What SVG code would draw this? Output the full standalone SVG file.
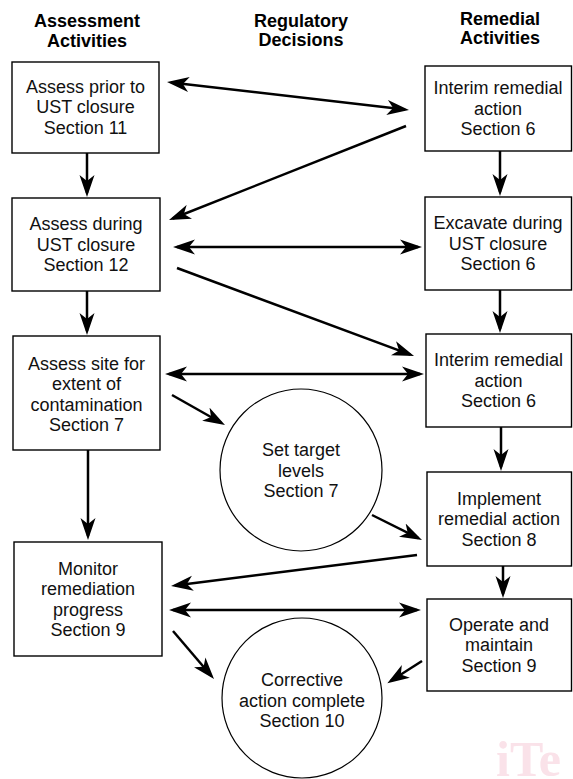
<svg xmlns="http://www.w3.org/2000/svg" width="573" height="779" viewBox="0 0 573 779">
<style>
.hdr{font-family:"Liberation Sans",Arial,sans-serif;font-size:18px;font-weight:bold;fill:#000;text-anchor:middle}
.t{font-family:"Liberation Sans",Arial,sans-serif;font-size:18px;fill:#111;text-anchor:middle}
.box{fill:#fff;stroke:#000;stroke-width:1.4}
.circ{fill:#fff;stroke:#000;stroke-width:1.2}
.ln{stroke:#000;stroke-width:2.5;fill:none;marker-end:url(#ah)}
.bi{stroke:#000;stroke-width:2.5;fill:none;marker-end:url(#ah);marker-start:url(#ah)}
.wm{font-family:"Liberation Serif","Times New Roman",serif;font-size:50px;font-weight:bold;fill:#fae2e9}
</style>
<defs>
<marker id="ah" viewBox="-22 -8 27 16" refX="-4" refY="0" markerWidth="27" markerHeight="16" markerUnits="userSpaceOnUse" orient="auto-start-reverse">
<path d="M0,0 L-22,-7.5 L-16,0 L-22,7.5 Z" fill="#000"/>
</marker>
</defs>
<rect width="573" height="779" fill="#fff"/>
<g id="headers">
<text class="hdr" x="87" y="27">Assessment</text>
<text class="hdr" x="87" y="47">Activities</text>
<text class="hdr" x="301" y="27">Regulatory</text>
<text class="hdr" x="301" y="46">Decisions</text>
<text class="hdr" x="500" y="25">Remedial</text>
<text class="hdr" x="500" y="44">Activities</text>
</g>
<g id="connectors">
<line class="bi" x1="171" y1="82.5" x2="405" y2="109.5"/>
<line class="ln" x1="406" y1="126" x2="172.7" y2="218.5"/>
<line class="ln" x1="87" y1="153" x2="87" y2="193"/>
<line class="ln" x1="500" y1="151" x2="500" y2="192"/>
<line class="bi" x1="177" y1="247" x2="418" y2="247"/>
<line class="ln" x1="177" y1="268" x2="410.3" y2="354.6"/>
<line class="ln" x1="87" y1="291" x2="87" y2="331"/>
<line class="ln" x1="500" y1="290" x2="500" y2="329"/>
<line class="bi" x1="169" y1="374" x2="420" y2="374"/>
<line class="ln" x1="172" y1="395" x2="221.5" y2="423"/>
<line class="ln" x1="501" y1="427" x2="501" y2="467"/>
<line class="ln" x1="372" y1="515" x2="418.4" y2="538.2"/>
<line class="ln" x1="88" y1="450" x2="88" y2="536"/>
<line class="ln" x1="417" y1="555" x2="175" y2="585.5"/>
<line class="ln" x1="503" y1="566" x2="503" y2="594"/>
<line class="bi" x1="173" y1="610" x2="417" y2="610"/>
<line class="ln" x1="173" y1="631" x2="211.4" y2="676"/>
<line class="ln" x1="422" y1="661" x2="390.7" y2="681"/>
</g>
<g id="assess-prior">
<rect class="box" x="12" y="62" width="147" height="91"/>
<text class="t" x="85.5" y="92.5">Assess prior to</text>
<text class="t" x="85.5" y="113">UST closure</text>
<text class="t" x="85.5" y="133.5">Section 11</text>
</g>
<g id="assess-during">
<rect class="box" x="12" y="198" width="148" height="93"/>
<text class="t" x="86" y="230">Assess during</text>
<text class="t" x="86" y="250.5">UST closure</text>
<text class="t" x="86" y="271">Section 12</text>
</g>
<g id="assess-site">
<rect class="box" x="13" y="336" width="147" height="114"/>
<text class="t" x="86.5" y="369.5">Assess site for</text>
<text class="t" x="86.5" y="390">extent of</text>
<text class="t" x="86.5" y="410.5">contamination</text>
<text class="t" x="86.5" y="431">Section 7</text>
</g>
<g id="monitor">
<rect class="box" x="14" y="542" width="148" height="114"/>
<text class="t" x="88" y="574.5">Monitor</text>
<text class="t" x="88" y="595">remediation</text>
<text class="t" x="88" y="615.5">progress</text>
<text class="t" x="88" y="636">Section 9</text>
</g>
<g id="interim-1">
<rect class="box" x="425" y="66" width="146.5" height="85"/>
<text class="t" x="498" y="94">Interim remedial</text>
<text class="t" x="498" y="114.5">action</text>
<text class="t" x="498" y="135">Section 6</text>
</g>
<g id="excavate">
<rect class="box" x="425" y="197" width="146.5" height="93"/>
<text class="t" x="498" y="229">Excavate during</text>
<text class="t" x="498" y="249.5">UST closure</text>
<text class="t" x="498" y="270">Section 6</text>
</g>
<g id="interim-2">
<rect class="box" x="426" y="334" width="145.5" height="93"/>
<text class="t" x="498.5" y="366">Interim remedial</text>
<text class="t" x="498.5" y="386.5">action</text>
<text class="t" x="498.5" y="407">Section 6</text>
</g>
<g id="implement">
<rect class="box" x="427" y="472" width="144.5" height="94"/>
<text class="t" x="499" y="504.5">Implement</text>
<text class="t" x="499" y="525">remedial action</text>
<text class="t" x="499" y="545.5">Section 8</text>
</g>
<g id="operate">
<rect class="box" x="427" y="599" width="144.5" height="92"/>
<text class="t" x="499" y="630.5">Operate and</text>
<text class="t" x="499" y="651">maintain</text>
<text class="t" x="499" y="671.5">Section 9</text>
</g>
<g id="set-target">
<circle class="circ" cx="301" cy="470" r="81"/>
<text class="t" x="301" y="456">Set target</text>
<text class="t" x="301" y="476.5">levels</text>
<text class="t" x="301" y="497">Section 7</text>
</g>
<g id="corrective">
<circle class="circ" cx="302" cy="698" r="80"/>
<text class="t" x="302" y="686">Corrective</text>
<text class="t" x="302" y="706.5">action complete</text>
<text class="t" x="302" y="727">Section 10</text>
</g>
<text class="wm" x="496" y="776">iTe</text>
</svg>
